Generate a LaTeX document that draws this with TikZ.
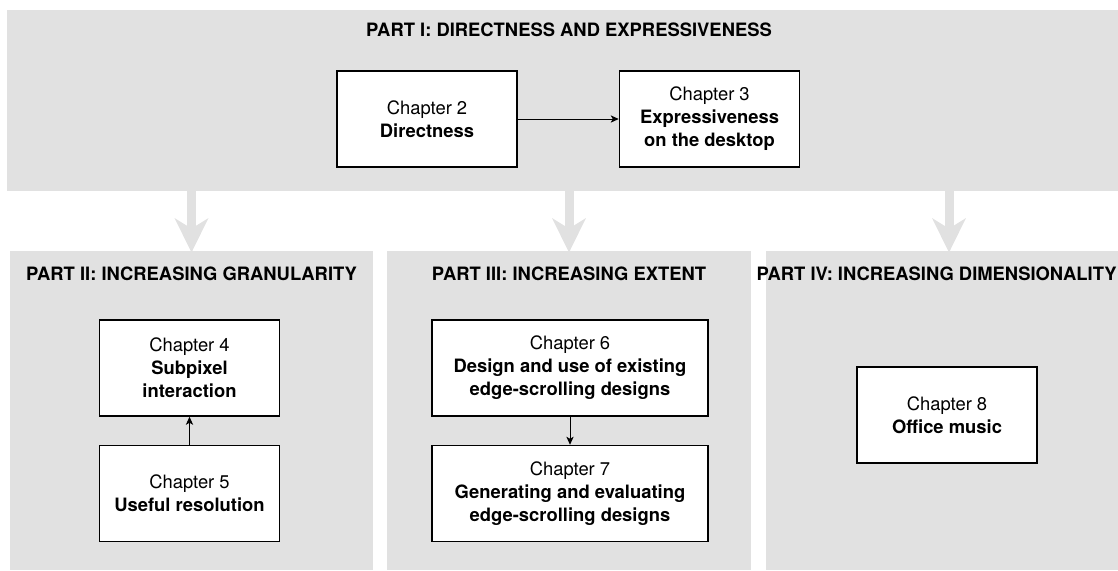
\documentclass[tikz,border=0pt]{standalone}
\usepackage{fontspec}
\setmainfont{TeX Gyre Heros}
\usetikzlibrary{arrows.meta,positioning}
\definecolor{panelgray}{RGB}{225,225,225}

\begin{document}
\begin{tikzpicture}[x=0.5pt, y=-0.5pt,
  panel/.style={fill=panelgray, draw=none, inner sep=0pt},
  parttitle/.style={font=\bfseries\fontsize{9.2}{11}\selectfont, anchor=base, inner sep=0pt},
  chapter/.style={draw, fill=white, line width=0.75pt, align=center,
    minimum width=90pt, minimum height=48pt, inner sep=2pt,
    font=\fontsize{9.2}{11.5}\selectfont},
  wide/.style={minimum width=138pt},
  link/.style={-{Stealth[length=4pt,width=3.6pt,inset=1pt]}, line width=0.5pt},
  bigarrow/.style={draw=panelgray, line width=4.5pt,
    -{Stealth[length=17pt,width=16.5pt,inset=5pt]}, shorten >=-1pt}]
  \useasboundingbox (0,0) rectangle (1118,570);

  % Panels
  \node[panel, minimum width=562pt, minimum height=90.5pt] (partI) at (569,100.5) {};
  \node[panel, minimum width=181.5pt, minimum height=159.5pt] (partII) at (191.5,410.5) {};
  \node[panel, minimum width=182pt, minimum height=159.5pt] (partIII) at (569,410.5) {};
  \node[panel, minimum width=183pt, minimum height=159.5pt] (partIV) at (949,410.5) {};

  % Part titles
  \node[parttitle] (titleI) at (569,36) {PART I: DIRECTNESS AND EXPRESSIVENESS};
  \node[parttitle] (titleII) at (191.5,280) {PART II: INCREASING GRANULARITY};
  \node[parttitle] (titleIII) at (569,280) {PART III: INCREASING EXTENT};
  \node[parttitle, anchor=base east] (titleIV) at (1117,280) {PART IV: INCREASING DIMENSIONALITY};

  % Arrows between parts
  \foreach \p in {partII,partIII,partIV}
    \draw[bigarrow] (partI.south -| \p.north) -- (\p.north);

  % Chapters
  \node[chapter] (ch2) at (427,119) {Chapter 2\\\textbf{Directness}};
  \node[chapter, right=50.5pt of ch2] (ch3) {Chapter 3\\\textbf{Expressiveness}\\\textbf{on the desktop}};
  \node[chapter] (ch4) at (189.5,368) {Chapter 4\\\textbf{Subpixel}\\\textbf{interaction}};
  \node[chapter, below=14pt of ch4] (ch5) {Chapter 5\\\textbf{Useful resolution}};
  \node[chapter, wide] (ch6) at (570,368) {Chapter 6\\\textbf{Design and use of existing}\\\textbf{edge-scrolling designs}};
  \node[chapter, wide, below=14pt of ch6] (ch7) {Chapter 7\\\textbf{Generating and evaluating}\\\textbf{edge-scrolling designs}};
  \node[chapter] (ch8) at (947,415) {Chapter 8\\\textbf{Office music}};

  % Links
  \draw[link] (ch2) -- (ch3);
  \draw[link] (ch5) -- (ch4);
  \draw[link] (ch6) -- (ch7);
\end{tikzpicture}
\end{document}
